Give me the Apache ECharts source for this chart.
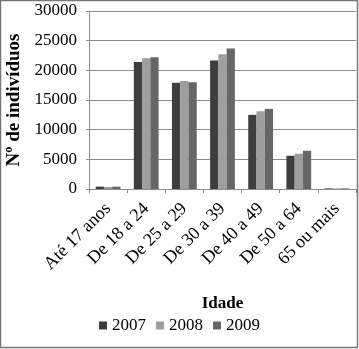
<!DOCTYPE html>
<html><head><meta charset="utf-8">
<script src="https://cdn.jsdelivr.net/npm/echarts@6/dist/echarts.min.js"></script>
<style>html,body{margin:0;padding:0;background:#fff}#c{width:359px;height:349px}</style>
</head><body><div id="c"></div>
<script>
const categories = ["Até 17 anos","De 18 a 24","De 25 a 29","De 30 a 39","De 40 a 49","De 50 a 64","65 ou mais"];
const years = ["2007","2008","2009"];
const v2007 = [400, 21400, 17900, 21650, 12500, 5600, 100];
const v2008 = [350, 22050, 18200, 22700, 13100, 5950, 100];
const v2009 = [400, 22200, 18000, 23700, 13500, 6450, 100];
const yTicks = [0, 5000, 10000, 15000, 20000, 25000, 30000];

const colors = ["#3e3e3e", "#9e9e9e", "#666666"];
const font = "'Liberation Serif', 'Times New Roman', serif";
const chart = echarts.init(document.getElementById('c'), null, {renderer:'canvas'});
const seriesData = [v2007, v2008, v2009];
chart.setOption({
  animation: false,
  backgroundColor: '#fff',
  textStyle: {fontFamily: font},
  grid: {left: 89, right: 3, top: 11, bottom: 160, containLabel: false, outerBoundsMode: 'none'},
  legend: {
    data: years, bottom: 10, left: 'center', itemWidth: 8, itemHeight: 8, itemGap: 10,
    icon: 'rect',
    textStyle: {fontFamily: font, fontSize: 17, color: '#000'}
  },
  xAxis: {
    type: 'category', data: categories,
    name: 'Idade', nameLocation: 'middle', nameGap: 106,
    nameTextStyle: {fontFamily: font, fontSize: 17, fontWeight: 'bold', color: '#000'},
    axisLine: {lineStyle: {color: '#8c8c8c', width: 1}},
    axisTick: {show: true, length: 4, lineStyle: {color: '#8c8c8c'}},
    axisLabel: {rotate: 45, fontFamily: font, fontSize: 18, color: '#000', margin: 17, interval: 0}
  },
  yAxis: {
    type: 'value', min: yTicks[0], max: yTicks[yTicks.length-1], interval: 5000,
    name: 'Nº de indivíduos', nameLocation: 'middle', nameGap: 57, nameRotate: 90,
    nameTextStyle: {fontFamily: font, fontSize: 19, fontWeight: 'bold', color: '#000', padding: [0,0,6,0]},
    axisLine: {show: true, lineStyle: {color: '#8c8c8c'}},
    axisTick: {show: true, length: 3, lineStyle: {color: '#8c8c8c'}},
    splitLine: {lineStyle: {color: '#8c8c8c', width: 1}},
    axisLabel: {fontFamily: font, fontSize: 17, color: '#000', margin: 12, formatter: v => String(v)}
  },
  series: years.map((y, i) => ({
    name: y, type: 'bar', data: seriesData[i], barGap: '0%', barCategoryGap: '35%',
    itemStyle: {color: colors[i]}
  })),
  graphic: [{
    type: 'rect', shape: {x: 0.5, y: 0.5, width: 357, height: 347},
    style: {fill: 'none', stroke: '#777', lineWidth: 1.5}, silent: true, z: 100
  }]
});
</script></body></html>
